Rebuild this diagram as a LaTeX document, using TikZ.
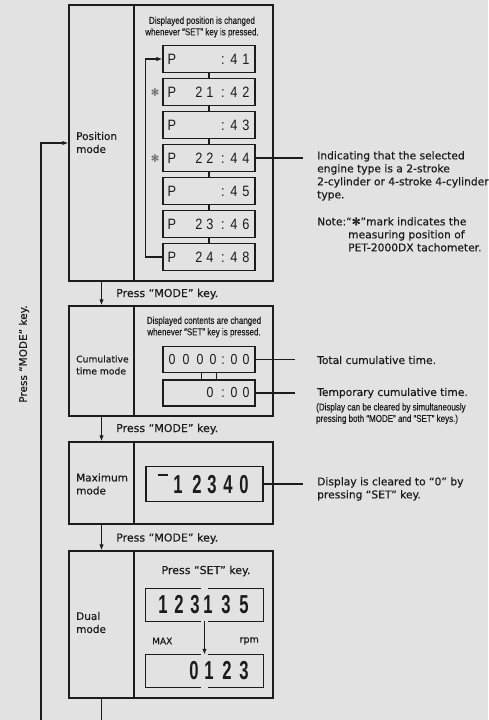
\documentclass[tikz,border=0pt]{standalone}
\usepackage{fontspec}
\setmainfont{DejaVu Sans}[FakeBold=0.4]
\newfontfamily\condf{Liberation Sans}[FakeStretch=0.8,FakeBold=0.3]
\newfontfamily\dispf{Liberation Sans}[FakeStretch=0.85]
\newfontfamily\lcdf{Liberation Sans Bold}[FakeStretch=0.64]
\usetikzlibrary{arrows.meta}
\definecolor{paper}{RGB}{226,226,226}
\definecolor{ink}{RGB}{28,28,28}
\newcommand\cat[2]{\rlap{\kern#1pt\makebox[0pt]{#2}}}
\newcommand\pdisp[4]{\hbox to 92pt{\cat{9}{P}\cat{36}{#1}\cat{47}{#2}\cat{60}{:}\cat{71}{#3}\cat{83}{#4}\hss}}
\begin{document}
\begin{tikzpicture}[x=1pt,y=-1pt,
  every node/.style={inner sep=0pt, text=ink},
  frame/.style={draw=ink, line width=1.3pt, rectangle},
  cellL/.style={frame, minimum width=65pt},
  cellR/.style={frame, minimum width=139pt},
  pbox/.style={draw=ink, line width=1.2pt, minimum width=92pt, minimum height=27.5pt, font=\dispf\fontsize{15}{15}\selectfont},
  cbox/.style={draw=ink, line width=1.2pt, minimum width=92pt, font=\dispf\fontsize{14.5}{14.5}\selectfont},
  lbox/.style={minimum width=117pt, font=\lcdf\fontsize{26}{26}\selectfont},
  conn/.style={draw=ink, line width=1.2pt},
  arr/.style={conn, -{Latex[length=6pt,width=4.5pt]}},
  modelbl/.style={anchor=west, align=left, font=\fontsize{10.5}{13}\selectfont},
  presslbl/.style={anchor=west, font=\fontsize{11}{13}\selectfont},
  anno/.style={anchor=north west, align=left, font=\fontsize{10.7}{13}\selectfont},
  small/.style={align=left, font=\condf\fontsize{10}{11.5}\selectfont},
  astmark/.style={text=black!55, font=\fontsize{10}{10}\selectfont}
]
\fill[paper] (0,0) rectangle (488,720);
\useasboundingbox (0,0) rectangle (488,720);

% ---------------- Position mode ----------------
\node[cellL, minimum height=276pt] (m1l) at (101.5,143) {};
\node[cellR, minimum height=276pt] (m1r) at (203.5,143) {};
\node[modelbl] (t1) at (76,142.5) {Position\\mode};
\node[small, align=center] (n1) at (202,27) {Displayed position is changed\\whenever “SET” key is pressed.};
\node[pbox] (p1) at (209,59)  {\pdisp{}{}{4}{1}};
\node[pbox] (p2) at (209,92)  {\pdisp{2}{1}{4}{2}};
\node[pbox] (p3) at (209,125) {\pdisp{}{}{4}{3}};
\node[pbox] (p4) at (209,158) {\pdisp{2}{2}{4}{4}};
\node[pbox] (p5) at (209,191) {\pdisp{}{}{4}{5}};
\node[pbox] (p6) at (209,224) {\pdisp{2}{3}{4}{6}};
\node[pbox] (p7) at (209,257) {\pdisp{2}{4}{4}{8}};
\node[astmark] (s1) at (155,92) {✻};
\node[astmark] (s2) at (155,158) {✻};
\foreach \a/\b in {p1/p2,p2/p3,p3/p4,p4/p5,p5/p6,p6/p7}
  \draw[conn] (\a.south) -- (\b.north);
\draw[arr] (p7.west) -- ++(-17,0) |- (p1.west);

\coordinate (a1) at (303,158);
\draw[conn] (p4.east) -- (a1);
\node[anno] (ann1) at (317,151) {Indicating that the selected\\engine type is a 2-stroke\\2-cylinder or 4-stroke 4-cylinder\\type.};
\node[anno] (ann2) at (317,217) {Note:“✻”mark indicates the\\\hspace*{31pt}measuring position of\\\hspace*{31pt}PET-2000DX tachometer.};

% ---------------- Cumulative time mode ----------------
\node[cellL, minimum height=110pt] (m2l) at (101.5,361) {};
\node[cellR, minimum height=110pt] (m2r) at (203.5,361) {};
\node[modelbl, font=\fontsize{9.2}{12}\selectfont] (t2) at (76,365) {Cumulative\\time mode};
\node[small, align=center] (n2) at (204,327) {Displayed contents are changed\\whenever “SET” key is pressed.};
\node[cbox, minimum height=25.5pt] (c1) at (209,359.5) {\hbox to 92pt{\cat{9}{0}\cat{23}{0}\cat{37}{0}\cat{50}{0}\cat{60}{:}\cat{71}{0}\cat{83}{0}\hss}};
\node[cbox, minimum height=26pt] (c2) at (209,393) {\hbox to 92pt{\cat{47}{0}\cat{60}{:}\cat{71}{0}\cat{83}{0}\hss}};
\draw[conn] ([xshift=-7.5pt]c1.south) -- ([xshift=-7.5pt]c2.north);
\draw[conn] ([xshift=7.5pt]c1.south) -- ([xshift=7.5pt]c2.north);
\coordinate (a3) at (295,359.5);
\coordinate (a4) at (295,393);
\draw[conn] (c1.east) -- (a3);
\draw[conn] (c2.east) -- (a4);
\node[anno, anchor=west] (ann3) at (317,360) {Total cumulative time.};
\node[anno, anchor=west] (ann4) at (317,393) {Temporary cumulative time.};
\node[small, anchor=north west] (ann5) at (316,403) {(Display can be cleared by simultaneously\\pressing both “MODE” and “SET” keys.)};

% ---------------- Maximum mode ----------------
\node[cellL, minimum height=82pt] (m3l) at (101.5,483) {};
\node[cellR, minimum height=82pt] (m3r) at (203.5,483) {};
\node[modelbl] (t3) at (76,484) {Maximum\\mode};
\node[lbox, draw=ink, line width=1.2pt, minimum height=35pt] (x1) at (204.5,484)
  {\hbox to 117pt{\cat{16.5}{\raisebox{17pt}{\rule{10pt}{1.8pt}}}\cat{32}{1}\cat{51}{2}\cat{66}{3}\cat{82}{4}\cat{98}{0}\hss}};
\coordinate (a6) at (303,484);
\draw[conn] (x1.east) -- (a6);
\node[anno] (ann6) at (317,477) {Display is cleared to “0” by\\pressing “SET” key.};

% ---------------- Dual mode ----------------
\node[cellL, minimum height=147pt] (m4l) at (101.5,624.5) {};
\node[cellR, minimum height=147pt] (m4r) at (203.5,624.5) {};
\node[modelbl] (t4) at (76,622.5) {Dual\\mode};
\node[font=\fontsize{11}{13}\selectfont] (n4) at (206,571) {Press “SET” key.};
\node[lbox, minimum height=32pt] (d1) at (204.5,605)
  {\hbox to 117pt{\cat{17}{1}\cat{33}{2}\cat{49}{3}\cat{62}{1}\cat{80}{3}\cat{98}{5}\hss}};
\node[lbox, minimum height=32pt] (d2) at (204.5,671)
  {\hbox to 117pt{\cat{48}{0}\cat{63}{1}\cat{81}{2}\cat{98}{3}\hss}};
\foreach \b in {d1,d2}{
  \draw[conn] ([xshift=-3.5pt]\b.north) -- (\b.north west) -- (\b.south west) -- ([xshift=-3.5pt]\b.south);
  \draw[conn] ([xshift=3.5pt]\b.north) -- (\b.north east) -- (\b.south east) -- ([xshift=3.5pt]\b.south);
}
\draw[arr] (d1.south) -- (d2.north);
\node[anchor=west, font=\fontsize{9}{10}\selectfont] (mx) at (152,641) {MAX};
\node[anchor=east, font=\fontsize{9.5}{10}\selectfont] (rpm) at (259,641) {rpm};

% ---------------- Mode transitions ----------------
\draw[arr] (m1l.south) -- (m2l.north);
\draw[arr] (m2l.south) -- (m3l.north);
\draw[arr] (m3l.south) -- (m4l.north);
\node[presslbl] (k1) at (116,294) {Press “MODE” key.};
\node[presslbl] (k2) at (116,429) {Press “MODE” key.};
\node[presslbl] (k3) at (116,538.5) {Press “MODE” key.};

\coordinate (b1) at (101.5,720);
\coordinate (b2) at (41,720);
\draw[conn] (m4l.south) -- (b1);
\draw[arr] (b2) |- (m1l.west);
\node[rotate=90, font=\fontsize{10.5}{12}\selectfont] (side) at (24,354) {Press “MODE” key.};
\end{tikzpicture}
\end{document}
